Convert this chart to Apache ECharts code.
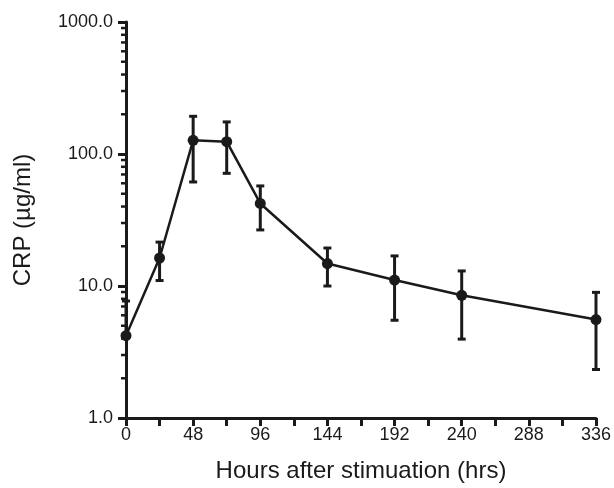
<!DOCTYPE html>
<html>
<head>
<meta charset="utf-8">
<script src="https://cdn.jsdelivr.net/npm/echarts@6/dist/echarts.min.js"></script>
<style>html,body{margin:0;padding:0;background:#fff;}#c{width:614px;height:488px;}</style>
</head>
<body>
<div id="c"></div>
<script>
// Data
var hours = [0, 24, 48, 72, 96, 144, 192, 240, 336];
var crpMean = [4.2, 16.3, 127, 124, 42.2, 14.8, 11.1, 8.5, 5.57];
var crpUpper = [7.7, 21.5, 193, 175, 57.3, 19.4, 16.9, 13.0, 8.95];
var crpLower = [null, 11.0, 61.4, 71.4, 26.6, 10.0, 5.5, 3.96, 2.33];
var yMinorTicks = [2,3,4,5,6,7,8,9,20,30,40,50,60,70,80,90,200,300,400,500,600,700,800,900];

var INK = '#1a1a1a';
var FONT = '"Liberation Sans", Arial, sans-serif';

var meanData = hours.map(function (h, i) { return [h, crpMean[i]]; });
var errData = hours.map(function (h, i) {
  return [h, crpLower[i] == null ? crpMean[i] : crpLower[i], crpUpper[i], crpLower[i] == null ? 0 : 1];
});
var minorData = yMinorTicks.map(function (v) { return [0, v]; });

var chart = echarts.init(document.getElementById('c'), null, { renderer: 'canvas' });
chart.setOption({
  animation: false,
  backgroundColor: '#fff',
  grid: { left: 126, right: 17, top: 22, bottom: 68, containLabel: false },
  xAxis: {
    type: 'value', min: 0, max: 336, interval: 24,
    name: 'Hours after stimuation (hrs)', nameLocation: 'middle', nameGap: 41,
    nameTextStyle: { fontFamily: FONT, fontSize: 24, color: INK },
    axisLine: { show: true, lineStyle: { color: INK, width: 3 } },
    axisTick: { show: true, length: 8, lineStyle: { color: INK, width: 3 } },
    axisLabel: {
      margin: 8, fontFamily: FONT, fontSize: 18, color: INK,
      formatter: function (v) { return v % 48 === 0 ? String(v) : ''; }
    },
    splitLine: { show: false }
  },
  yAxis: {
    type: 'log', logBase: 10, min: 1, max: 1000,
    name: 'CRP (µg/ml)', nameLocation: 'middle', nameGap: 91, nameRotate: 90,
    nameTextStyle: { fontFamily: FONT, fontSize: 24, color: INK },
    axisLine: { show: true, lineStyle: { color: INK, width: 3 } },
    axisTick: { show: true, length: 8, lineStyle: { color: INK, width: 3 } },
    axisLabel: {
      margin: 13, fontFamily: FONT, fontSize: 18, color: INK,
      formatter: function (v) { return Number(v).toFixed(1); }
    },
    splitLine: { show: false }
  },
  series: [
    {
      type: 'custom', clip: false, z: 1,
      data: minorData,
      renderItem: function (params, api) {
        var p = api.coord([api.value(0), api.value(1)]);
        return { type: 'line', shape: { x1: p[0] - 5, y1: p[1], x2: p[0], y2: p[1] },
          style: { stroke: INK, lineWidth: 2.5 } };
      }
    },
    {
      type: 'line', data: meanData, z: 3,
      symbol: 'circle', symbolSize: 11,
      itemStyle: { color: INK },
      lineStyle: { color: INK, width: 2.5 }
    },
    {
      type: 'custom', clip: false, z: 4,
      data: errData,
      renderItem: function (params, api) {
        var x = api.value(0);
        var lo = api.coord([x, api.value(1)]);
        var hi = api.coord([x, api.value(2)]);
        var hw = 4;
        var children = [
          { type: 'line', shape: { x1: hi[0], y1: hi[1], x2: lo[0], y2: lo[1] }, style: { stroke: INK, lineWidth: 3 } },
          { type: 'line', shape: { x1: hi[0] - hw, y1: hi[1], x2: hi[0] + hw, y2: hi[1] }, style: { stroke: INK, lineWidth: 3 } }
        ];
        if (api.value(3) === 1) {
          children.push({ type: 'line', shape: { x1: lo[0] - hw, y1: lo[1], x2: lo[0] + hw, y2: lo[1] }, style: { stroke: INK, lineWidth: 3 } });
        }
        return { type: 'group', children: children };
      }
    }
  ]
});
</script>
</body>
</html>
